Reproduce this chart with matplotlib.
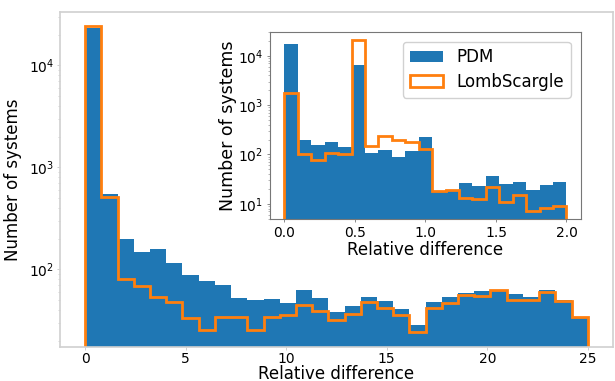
import numpy as np
import matplotlib

matplotlib.use("Agg")
import matplotlib.pyplot as plt

# Full range: 31 equal bins between 0 and 25
main_range = (0.0, 25.0)
main_nbins = 31
pdm_main = [23500, 550, 200, 148, 157, 115, 87, 77, 70, 52, 50, 51, 47, 63, 52,
            38, 44, 54, 49, 41, 28.3, 48, 53, 58, 61, 63, 57, 54, 62, 50, 34.3]
ls_main = [24200, 515, 80, 69, 54, 48, 33.6, 25.4, 33.8, 34.3, 25.4, 34.3, 35.6,
           45, 39, 32, 36.5, 48, 42, 36, 24.1, 42, 46.4, 55.6, 54.7, 62.2, 50,
           50, 59.6, 49.2, 34.3]

# Zoom on small differences: 21 equal bins between 0 and 2
inset_range = (0.0, 2.0)
inset_nbins = 21
pdm_inset = [17000, 194, 156, 179, 144, 6400, 109, 123, 90, 115, 229, 18.2, 19.1,
             26.9, 23.3, 36.7, 24.9, 27.4, 19.4, 23.8, 27.4]
ls_inset = [1730, 104, 76, 109, 101, 21100, 151, 240, 198, 181, 129, 18.2, 19.4,
            13.4, 12.4, 22, 10.8, 15.4, 7.3, 8.4, 9.2]


def draw_hist(ax, edges, pdm, ls, label=False):
    centers = 0.5 * (edges[:-1] + edges[1:])
    ax.hist(centers, bins=edges, weights=pdm, color="C0", log=True,
            label="PDM" if label else None)
    ax.hist(centers, bins=edges, weights=ls, histtype="step", color="C1",
            linewidth=2, log=True, label="LombScargle" if label else None)


fig = plt.figure(figsize=(6.15, 3.81), dpi=100)

ax = fig.add_axes([0.0976, 0.09, 0.899, 0.879])
edges = np.linspace(*main_range, main_nbins + 1)
draw_hist(ax, edges, pdm_main, ls_main)
ax.set_xlim(-1.25, 26.25)
ax.set_ylim(17.4, 33500)
ax.set_xticks([0, 5, 10, 15, 20, 25])
ax.set_xlabel("Relative difference", fontsize=12, labelpad=-1)
ax.set_ylabel("Number of systems", fontsize=12, labelpad=5)
ax.tick_params(labelsize=10, color="#c8c8c8", length=2, width=0.6, pad=2)
ax.tick_params(which="minor", color="#c8c8c8", length=1.5, width=0.5)
for spine in ax.spines.values():
    spine.set_color("#d0d0d0")
    spine.set_linewidth(1.2)

axin = fig.add_axes([0.4395, 0.425, 0.5045, 0.492])
edges_in = np.linspace(*inset_range, inset_nbins + 1)
draw_hist(axin, edges_in, pdm_inset, ls_inset, label=True)
axin.set_xlim(-0.1, 2.1)
axin.set_ylim(4.9, 31000)
axin.set_xticks([0.0, 0.5, 1.0, 1.5, 2.0])
axin.set_xlabel("Relative difference", fontsize=12, labelpad=1)
axin.set_ylabel("Number of systems", fontsize=12.5, labelpad=1)
axin.tick_params(labelsize=10, color="#777777", length=2.5, width=0.6, pad=2.5)
axin.tick_params(which="minor", color="#999999", length=1.5, width=0.5)
for spine in axin.spines.values():
    spine.set_color("#777777")
axin.legend(loc="upper right", fontsize=12, framealpha=0.9,
            borderaxespad=0.6, labelspacing=0.4)

fig.savefig("out.png", dpi=100, facecolor="white")
